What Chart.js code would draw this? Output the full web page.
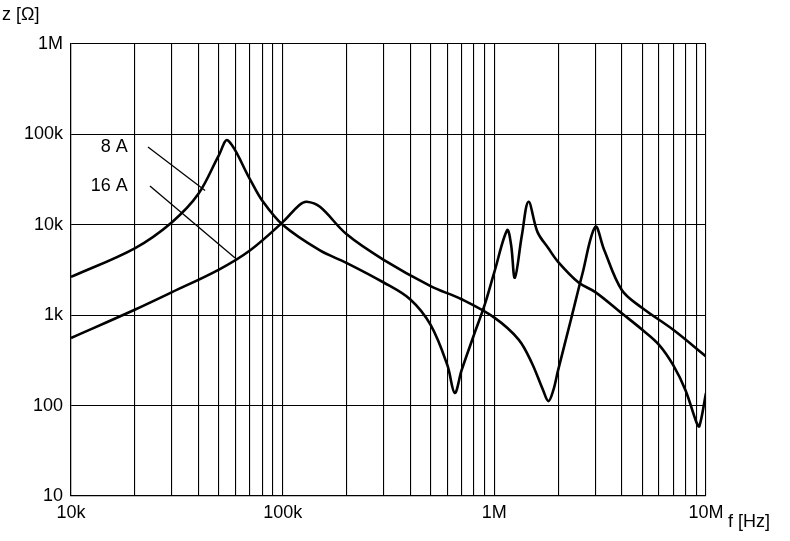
<!DOCTYPE html>
<html><head><meta charset="utf-8">
<script src="https://cdn.jsdelivr.net/npm/chart.js@4/dist/chart.umd.min.js"></script>
<style>html,body{margin:0;padding:0;background:#fff}#w{width:790px;height:541px}</style>
</head><body><div id="w"><canvas id="c"></canvas></div>
<script>
const freq8A = [10e3,20e3,30e3,40e3,50e3,55e3,70e3,80e3,100e3,150e3,200e3,300e3,400e3,500e3,600e3,650e3,700e3,800e3,900e3,1e6,1.15e6,1.2e6,1.25e6,1.35e6,1.45e6,1.6e6,1.8e6,2e6,2.5e6,3e6,4e6,5e6,6e6,7e6,8e6,9e6,9.3e6,10e6];
const z8A = [2650,5500,10700,22000,59000,86000,32000,18600,10000,5200,3800,2300,1500,780,280,138,245,600,1300,3000,8700,6000,2600,7700,18000,8300,5500,3900,2300,1800,1050,690,470,280,148,66,59,138];
const freq16A = [10e3,20e3,30e3,50e3,70e3,100e3,120e3,130e3,150e3,200e3,300e3,500e3,700e3,1e6,1.3e6,1.5e6,1.7e6,1.8e6,1.9e6,2e6,2.3e6,2.6e6,3e6,3.3e6,4e6,5e6,7e6,10e6];
const z16A = [560,1150,1800,3200,5200,10700,16600,18000,15800,7900,4100,2100,1500,940,540,300,148,112,148,245,890,2800,9500,5300,1900,1200,690,350];
const xTickLabels = {1e4:'10k',1e5:'100k',1e6:'1M',1e7:'10M'};
const yTickLabels = {10:'10',100:'100',1e3:'1k',1e4:'10k',1e5:'100k',1e6:'1M'};
const seriesNames = ['8 A','16 A'];
const FONT = 'Liberation Sans';
const pts = (f,z)=>f.map((v,i)=>({x:v,y:z[i]}));
const labelPlugin = {
  id:'lbl',
  afterDraw(ch){
    const c=ch.ctx,x=ch.scales.x,y=ch.scales.y;
    c.save();
    c.strokeStyle='#000';c.lineWidth=1.3;
    const L=(f1,z1,f2,z2)=>{c.beginPath();c.moveTo(x.getPixelForValue(f1),y.getPixelForValue(z1));c.lineTo(x.getPixelForValue(f2),y.getPixelForValue(z2));c.stroke();};
    L(23.1e3,72.6e3,43e3,24e3);
    L(23.6e3,26.8e3,59.6e3,4.3e3);
    c.fillStyle='#000';c.font='18px "'+FONT+'"';c.textAlign='right';c.textBaseline='middle';
    c.fillText(seriesNames[0],x.getPixelForValue(20e3)-7,y.getPixelForValue(73e3));
    c.fillText(seriesNames[1],x.getPixelForValue(20e3)-7,y.getPixelForValue(27e3));
    c.textAlign='left';
    c.fillText('z [Ω]',2,15);
    c.fillText('f [Hz]',728,522);
    c.restore();
  }
};
new Chart(document.getElementById('c'),{
  type:'line',
  data:{datasets:[
    {data:pts(freq8A,z8A),borderColor:'#000',borderWidth:2.6,pointRadius:0,tension:0.35},
    {data:pts(freq16A,z16A),borderColor:'#000',borderWidth:2.6,pointRadius:0,tension:0.35}
  ]},
  options:{
    responsive:true,maintainAspectRatio:false,animation:false,
    layout:{padding:{top:44,right:84,left:0,bottom:0}},
    plugins:{legend:{display:false},tooltip:{enabled:false}},
    scales:{
      x:{type:'logarithmic',min:1e4,max:1e7,
        afterBuildTicks(s){const t=[];for(let d=1e4;d<1e7;d*=10)for(let m=1;m<10;m++)t.push({value:d*m});t.push({value:1e7});s.ticks=t;},
        afterFit(s){s.height=45;},
        ticks:{autoSkip:false,maxRotation:0,color:'#000',font:{family:FONT,size:18},padding:6,callback:v=>xTickLabels[v]||''},
        grid:{color:'#000',lineWidth:1.1,drawTicks:false},border:{color:'#000',width:1.2}},
      y:{type:'logarithmic',min:10,max:1e6,
        afterBuildTicks(s){s.ticks=[10,100,1e3,1e4,1e5,1e6].map(v=>({value:v}));},
        afterFit(s){s.width=71;},
        ticks:{color:'#000',font:{family:FONT,size:18},padding:8,callback:v=>yTickLabels[v]||''},
        grid:{color:'#000',lineWidth:1.1,drawTicks:false},border:{color:'#000',width:1.2}}
    }
  },
  plugins:[labelPlugin]
});
</script></body></html>
